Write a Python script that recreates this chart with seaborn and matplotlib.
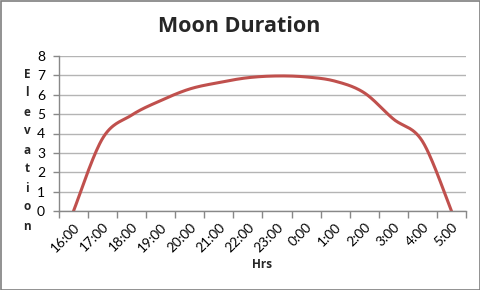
import numpy as np
import pandas as pd
import matplotlib
matplotlib.use("Agg")
import matplotlib.pyplot as plt
import seaborn as sns
from matplotlib.patches import Rectangle

hours = ["16:00", "17:00", "18:00", "19:00", "20:00", "21:00", "22:00",
         "23:00", "0:00", "1:00", "2:00", "3:00", "4:00", "5:00"]
elevation = [0, 3.75, 4.95, 5.7, 6.3, 6.63, 6.88, 6.97, 6.92, 6.7, 6.1, 4.75, 3.6, 0]
y_ticks = [0, 1, 2, 3, 4, 5, 6, 7, 8]
title = "Moon Duration"
x_label = "Hrs"
y_label = "Elevation"


def excel_smooth(xs, ys, n=30):
    xs = np.asarray(xs, float)
    ys = np.asarray(ys, float)
    P = np.column_stack([xs, ys])
    m = len(P)
    out = []
    for i in range(m - 1):
        p0 = P[i - 1] if i > 0 else P[i]
        p1 = P[i]
        p2 = P[i + 1]
        p3 = P[i + 2] if i + 2 < m else P[i + 1]
        c1 = p1 + (p2 - p0) / 6.0
        c2 = p2 - (p3 - p1) / 6.0
        t = np.linspace(0, 1, n, endpoint=(i == m - 2))[:, None]
        seg = ((1 - t) ** 3) * p1 + 3 * ((1 - t) ** 2) * t * c1 + 3 * (1 - t) * t ** 2 * c2 + t ** 3 * p2
        out.append(seg)
    out = np.vstack(out)
    return out[:, 0], out[:, 1]


sns.set_theme(style="white")
plt.rcParams["font.family"] = ["Lato", "DejaVu Sans"]
bold_family = ["Open Sans", "DejaVu Sans"]

fig = plt.figure(figsize=(4.81, 2.90), dpi=100)
ax = fig.add_axes([59 / 481, 1 - 211 / 290, (466 - 59) / 481, (211 - 56) / 290])

pos = np.arange(len(hours))
sx, sy = excel_smooth(pos, elevation)
df = pd.DataFrame({"x": sx, "y": sy})
sns.lineplot(data=df, x="x", y="y", ax=ax, color="#C0504D", linewidth=2.2, sort=False,
             estimator=None)

ax.set_xlim(-0.5, len(hours) - 0.5)
ax.set_ylim(0, 8)
ax.set_yticks(y_ticks)
ax.set_yticklabels([str(v) for v in y_ticks], fontsize=10, color="black")
ax.yaxis.grid(True, color="#b4b4b4", linewidth=1)
ax.xaxis.grid(False)

ax.set_xticks(pos)
ax.set_xticklabels(hours, rotation=45, ha="right", va="top", rotation_mode="anchor",
                   fontsize=9.8, color="black")
ax.set_xticks(np.arange(-0.5, len(hours)), minor=True)
ax.tick_params(axis="x", which="major", length=0, pad=7)
ax.tick_params(axis="x", which="minor", length=5, width=1, color="#888888", direction="out", bottom=True)
ax.tick_params(axis="y", which="major", length=4, width=1, color="#888888", direction="out", left=True, pad=6)

for side in ["top", "right"]:
    ax.spines[side].set_visible(False)
for side in ["left", "bottom"]:
    ax.spines[side].set_color("#888888")
    ax.spines[side].set_linewidth(1)

ax.set_xlabel("")
ax.set_ylabel("")

fig.text(239 / 481, 1 - 26 / 290, title, ha="center", va="center", fontsize=15.5,
         fontweight="bold", family=bold_family)
fig.text(262 / 481, 1 - 265 / 290, x_label, ha="center", va="center", fontsize=8.5,
         fontweight="bold", family=bold_family)
fig.text(27 / 481, 1 - 150 / 290, "\n".join(y_label), ha="center", va="center", fontsize=8.5,
         fontweight="bold", linespacing=1.6, family=bold_family)

fig.patches.append(Rectangle((0.5 / 481, 0.5 / 290), 1 - 1.5 / 481, 1 - 1.5 / 290,
                             transform=fig.transFigure, fill=False, edgecolor="#7f7f7f",
                             linewidth=1.2))

fig.savefig("out.png", dpi=100)
